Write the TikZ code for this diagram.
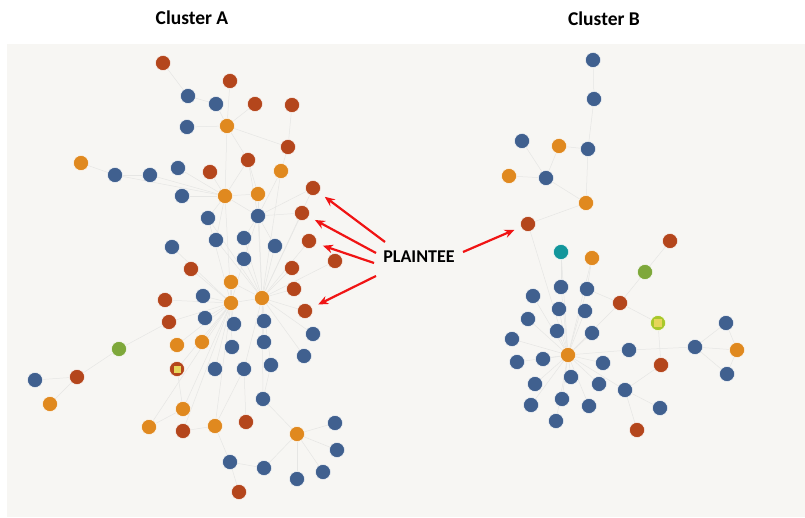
\documentclass[tikz,border=0pt]{standalone}
\usepackage{fontspec}
\setmainfont{Carlito}
\usetikzlibrary{arrows.meta}
\definecolor{nblue}{HTML}{40608F}
\definecolor{nred}{HTML}{B4461C}
\definecolor{norange}{HTML}{E0891F}
\definecolor{ngreen}{HTML}{7EA83A}
\definecolor{nteal}{HTML}{13969B}
\definecolor{nyg}{HTML}{A8C82B}
\definecolor{nyel}{HTML}{E6D55A}
\definecolor{bgc}{HTML}{F7F6F3}
\definecolor{edgec}{HTML}{E6E6E4}
\definecolor{arrred}{HTML}{F01414}
\pgfdeclarelayer{bglayer}
\pgfdeclarelayer{edgelayer}
\pgfsetlayers{bglayer,edgelayer,main}
\tikzset{
  dot/.style={circle,inner sep=0pt,minimum size=15pt,draw=white,line width=0.4pt},
  bd/.style={dot,fill=nblue},
  rd/.style={dot,fill=nred},
  od/.style={dot,fill=norange},
  gd/.style={dot,fill=ngreen},
  td/.style={dot,fill=nteal},
  yd/.style={dot,fill=nyg},
  sq/.style={rectangle,inner sep=0pt,minimum size=7pt,fill=nyel},
  edge/.style={draw=edgec,line width=0.5pt},
  callout/.style={draw=arrred,line width=2.2pt,-{Stealth[length=10pt,width=8.5pt]},shorten >=7pt},
  title/.style={font=\bfseries\fontsize{19.5}{22}\selectfont},
  lbl/.style={font=\bfseries\fontsize{18}{20}\selectfont}
}
\begin{document}
\begin{tikzpicture}[x=1pt,y=-1pt]
\useasboundingbox (0,0) rectangle (805,518);
\begin{pgfonlayer}{bglayer}
\fill[white] (0,0) rectangle (805,518);
\fill[bgc] (7,44) rectangle (805,517);
\end{pgfonlayer}
\node[title] (tA) at (192,18) {Cluster A};
\node[title] (tB) at (604,19) {Cluster B};
% Cluster A
\node[rd] (a1) at (163,63) {};
\node[rd] (a2) at (230,81) {};
\node[bd] (a3) at (188,96) {};
\node[bd] (a4) at (216,104) {};
\node[rd] (a5) at (255,104) {};
\node[rd] (a6) at (292,105) {};
\node[bd] (a7) at (187,127) {};
\node[od] (a8) at (227,126) {};
\node[rd] (a9) at (288,147) {};
\node[rd] (a10) at (248,160) {};
\node[od] (a11) at (81,163) {};
\node[bd] (a12) at (115,175) {};
\node[bd] (a13) at (150,175) {};
\node[bd] (a14) at (178,168) {};
\node[rd] (a15) at (210,172) {};
\node[od] (a16) at (281,171) {};
\node[rd] (a17) at (313,188) {};
\node[bd] (a18) at (182,196) {};
\node[od] (a19) at (225,196) {};
\node[od] (a20) at (258,194) {};
\node[rd] (a21) at (302,213) {};
\node[bd] (a22) at (208,218) {};
\node[bd] (a23) at (258,216) {};
\node[rd] (a24) at (309,241) {};
\node[bd] (a25) at (172,247) {};
\node[bd] (a26) at (216,240) {};
\node[bd] (a27) at (244,238) {};
\node[bd] (a28) at (275,246) {};
\node[rd] (a29) at (335,261) {};
\node[bd] (a30) at (244,259) {};
\node[rd] (a31) at (191,269) {};
\node[rd] (a32) at (292,268) {};
\node[od] (a33) at (231,282) {};
\node[rd] (a34) at (294,289) {};
\node[rd] (a35) at (165,300) {};
\node[bd] (a36) at (203,296) {};
\node[od] (a37) at (231,303) {};
\node[od] (a38) at (262,298) {};
\node[rd] (a39) at (305,311) {};
\node[rd] (a40) at (169,322) {};
\node[bd] (a41) at (205,318) {};
\node[bd] (a42) at (234,324) {};
\node[bd] (a43) at (264,321) {};
\node[bd] (a44) at (313,334) {};
\node[od] (a45) at (177,345) {};
\node[od] (a46) at (202,342) {};
\node[bd] (a47) at (232,347) {};
\node[bd] (a48) at (264,342) {};
\node[bd] (a49) at (304,356) {};
\node[gd] (a50) at (119,349) {};
\node[bd] (a51) at (35,380) {};
\node[rd] (a52) at (77,377) {};
\node[od] (a53) at (50,404) {};
\node[rd] (a54) at (177,369) {};
\node[sq] (a54s) at (177,369) {};
\node[bd] (a55) at (215,369) {};
\node[bd] (a56) at (244,369) {};
\node[bd] (a57) at (271,365) {};
\node[bd] (a58) at (263,399) {};
\node[od] (a59) at (183,409) {};
\node[od] (a60) at (149,427) {};
\node[rd] (a61) at (183,431) {};
\node[od] (a62) at (215,426) {};
\node[rd] (a63) at (246,422) {};
\node[od] (a64) at (297,434) {};
\node[bd] (a65) at (335,423) {};
\node[bd] (a66) at (337,450) {};
\node[bd] (a67) at (323,472) {};
\node[bd] (a68) at (297,479) {};
\node[bd] (a69) at (230,462) {};
\node[bd] (a70) at (264,468) {};
\node[rd] (a71) at (239,492) {};
% Cluster B
\node[bd] (b1) at (593,60) {};
\node[bd] (b2) at (594,99) {};
\node[bd] (b3) at (522,141) {};
\node[od] (b4) at (559,146) {};
\node[bd] (b5) at (588,149) {};
\node[od] (b6) at (509,176) {};
\node[bd] (b7) at (546,178) {};
\node[od] (b8) at (586,203) {};
\node[rd] (b9) at (528,224) {};
\node[rd] (b10) at (670,241) {};
\node[td] (b11) at (561,252) {};
\node[od] (b12) at (592,258) {};
\node[gd] (b13) at (645,272) {};
\node[bd] (b14) at (561,287) {};
\node[bd] (b15) at (587,289) {};
\node[bd] (b16) at (533,296) {};
\node[rd] (b17) at (620,303) {};
\node[bd] (b18) at (559,309) {};
\node[bd] (b19) at (585,311) {};
\node[bd] (b20) at (528,319) {};
\node[yd] (b21) at (658,323) {};
\node[sq,minimum size=8pt] (b21s) at (658,323) {};
\node[bd] (b22) at (726,323) {};
\node[bd] (b23) at (557,331) {};
\node[bd] (b24) at (592,333) {};
\node[bd] (b25) at (512,339) {};
\node[od] (b26) at (568,355) {};
\node[bd] (b27) at (629,350) {};
\node[bd] (b28) at (695,347) {};
\node[od] (b29) at (737,350) {};
\node[bd] (b30) at (517,362) {};
\node[bd] (b31) at (543,359) {};
\node[bd] (b32) at (603,363) {};
\node[rd] (b33) at (661,365) {};
\node[bd] (b34) at (727,374) {};
\node[bd] (b35) at (571,377) {};
\node[bd] (b36) at (535,384) {};
\node[bd] (b37) at (599,384) {};
\node[bd] (b38) at (625,390) {};
\node[bd] (b39) at (531,405) {};
\node[bd] (b40) at (562,399) {};
\node[bd] (b41) at (589,406) {};
\node[bd] (b42) at (660,408) {};
\node[bd] (b43) at (556,421) {};
\node[rd] (b44) at (637,430) {};
% edges
\begin{pgfonlayer}{edgelayer}
\foreach \u/\v in {a1/a3,a3/a4,a4/a8,a7/a8,a2/a8,a5/a8,a8/a9,a6/a9,a8/a10,a8/a19,
  a11/a12,a12/a13,a13/a19,a14/a19,a15/a19,a18/a19,a22/a19,a26/a19,a10/a19,a19/a20,a19/a23,a12/a19,
  a23/a20,a23/a16,a23/a27,a23/a28,a23/a30,a23/a10,a23/a21,a23/a17,a16/a9,a20/a10,
  a38/a23,a38/a28,a38/a30,a38/a32,a38/a34,a38/a39,a38/a43,a38/a44,a38/a48,a38/a49,a38/a57,a38/a56,
  a38/a58,a38/a20,a38/a16,a38/a17,a38/a21,a38/a24,a38/a29,a38/a33,a38/a37,a38/a27,a38/a26,a38/a22,
  a37/a36,a37/a41,a37/a42,a37/a46,a37/a45,a37/a47,a37/a55,a37/a33,a37/a31,a37/a35,a37/a40,a37/a54,
  a37/a59,a37/a60,a37/a61,a37/a62,a37/a25,a37/a30,a37/a19,a37/a22,
  a50/a52,a50/a40,a51/a52,a52/a53,a58/a64,a64/a65,a64/a66,a64/a67,a64/a68,a64/a70,a70/a69,a69/a71,
  a69/a62,a62/a61,a60/a59,a63/a56,a58/a57,a56/a62,a59/a54}
  \draw[edge] (\u) -- (\v);
\foreach \u/\v in {b1/b2,b2/b5,b5/b8,b4/b5,b4/b7,b3/b7,b6/b7,b7/b8,b8/b9,b9/b26,b11/b14,b12/b15,
  b10/b13,b13/b17,b17/b21,b21/b33,b33/b38,b38/b44,b38/b42,b26/b27,b27/b28,b28/b22,b28/b29,b28/b34,
  b22/b29,b29/b34,b17/b15,b17/b26,
  b26/b14,b26/b15,b26/b16,b26/b18,b26/b19,b26/b20,b26/b23,b26/b24,b26/b25,b26/b30,b26/b31,b26/b32,
  b26/b35,b26/b36,b26/b37,b26/b38,b26/b39,b26/b40,b26/b41,b26/b43,b26/b12,b26/b11}
  \draw[edge] (\u) -- (\v);
\end{pgfonlayer}
% label and callouts
\node[lbl] (pl) at (419,257) {PLAINTEE};
\coordinate (s1) at (385,242);
\coordinate (s2) at (376,253);
\coordinate (s3) at (374,263);
\coordinate (s4) at (376,276);
\coordinate (s5) at (463,252);
\draw[callout] (s1) -- (a17);
\draw[callout] (s2) -- (a21);
\draw[callout] (s3) -- (a24);
\draw[callout] (s4) -- (a39);
\draw[callout] (s5) -- (b9);
\end{tikzpicture}
\end{document}
